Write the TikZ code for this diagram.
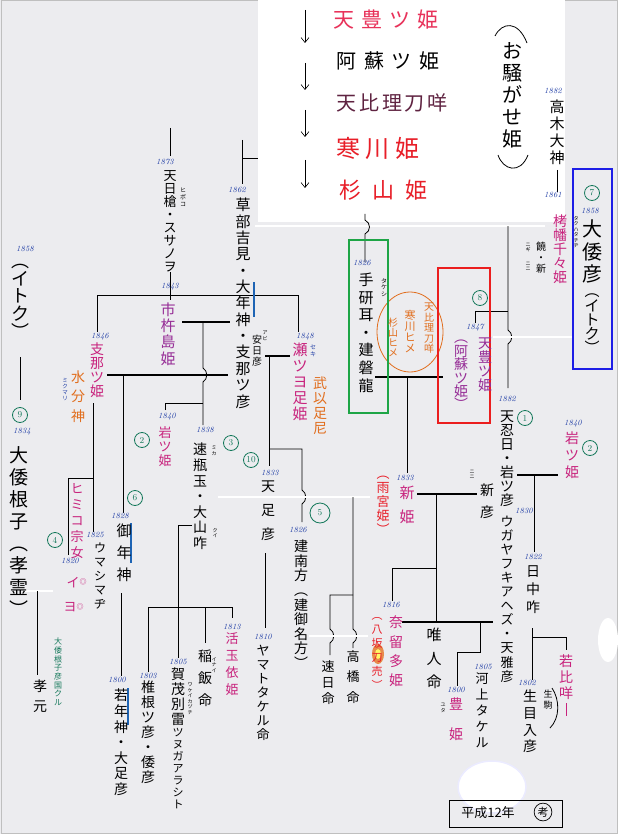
\documentclass[tikz,border=0pt]{standalone}
\usepackage{fontspec}
\newfontfamily\jp{Noto Sans CJK JP}
\usetikzlibrary{arrows.meta}
\definecolor{paper}{RGB}{236,236,239}
\definecolor{yrblue}{RGB}{30,60,165}
\definecolor{hmag}{RGB}{200,35,125}
\definecolor{hpurple}{RGB}{150,45,150}
\definecolor{horange}{RGB}{225,110,30}
\definecolor{hred}{RGB}{232,30,40}
\definecolor{hpink}{RGB}{232,50,90}
\definecolor{hteal}{RGB}{20,120,90}
\definecolor{hbrown}{RGB}{95,35,65}
\definecolor{barblue}{RGB}{30,100,180}
\definecolor{boxgreen}{RGB}{30,165,70}
\definecolor{boxred}{RGB}{235,30,30}
\definecolor{boxblue}{RGB}{30,30,230}

% vertical (tate) and spaced horizontal (yoko) text
\makeatletter
\def\vt@loop#1{\ifx\relax#1\else\hbox to 1.1em{\hss#1\hss}\expandafter\vt@loop\fi}
\newcommand\vt[2][1.1]{\vbox{\baselineskip=#1em\lineskiplimit=-\maxdimen\lineskip=0pt\vt@loop#2\relax}}
\def\yk@loop#1{\ifx\relax#1\else\hbox to \yk@w{\hss#1\hss}\expandafter\yk@loop\fi}
\newcommand\yoko[2][1.3]{\hbox{\def\yk@w{#1em}\yk@loop#2\relax}}
\makeatother

\tikzset{
  kan/.style={inner sep=0pt, anchor=north, font=\jp\fontsize{#1}{#1}\selectfont},
  kan/.default=14,
  yoko/.style={inner sep=0pt, font=\jp\fontsize{#1}{#1}\selectfont},
  yr/.style={inner sep=0pt, text=yrblue, font=\itshape\fontsize{8}{8}\selectfont},
  ruby/.style={inner sep=0pt, anchor=north, font=\jp\fontsize{#1}{#1}\selectfont},
  ruby/.default=5.5,
  maru/.style={circle, draw=hteal, text=hteal, line width=0.8pt, inner sep=0pt,
    minimum size=#1, font=\fontsize{9}{9}\selectfont},
  maru/.default=15pt,
  ln/.style={line width=0.8pt},
  dbl/.style={double, double distance=1.4pt, line width=0.6pt},
  bold/.style={line width=2.3pt},
  bar/.style={barblue, line width=2.6pt},
  frame/.style={line width=1.3pt},
  arr/.style={line width=0.6pt, -{Straight Barb[length=5pt,width=8pt]}},
}

\begin{document}
\begin{tikzpicture}[x=1pt,y=-1pt]
\useasboundingbox (0,0) rectangle (618,834);
\fill[paper] (0,0) rectangle (618,834);
\draw[black!25, line width=1pt] (1,1) rectangle (617,833);

% pasted note
\fill[white] (258,0) rectangle (565,222);
\draw[arr] (305,10) -- (305,43);
\draw[arr] (305,63) -- (305,90);
\draw[arr] (305,110) -- (305,137);
\draw[arr] (305,160) -- (305,188);
\node[yoko=21, text=hpink] (noteA) at (386,20) {\yoko[1.33]{天豊ツ姫}};
\node[yoko=20] (noteB) at (388,61) {\yoko[1.37]{阿蘇ツ姫}};
\node[yoko=20, text=hbrown] (noteC) at (392,103) {\yoko[1.13]{天比理刀咩}};
\node[yoko=24, text=hred] (noteD) at (378,148) {\yoko[1.25]{寒川姫}};
\node[yoko=22, text=hred] (noteE) at (383,190) {\yoko[1.5]{杉山姫}};
\draw[ln] (495,36) .. controls (502,22) and (518,20) .. (527,43);
\draw[ln] (498,155) .. controls (503,170) and (520,175) .. (528,155);
\node[kan=20] (osawa) at (512,42) {\vt[1.1]{お騒がせ姫}};

% stains
\fill[white] (492,787) ellipse (34 and 26);
\draw[blue!8, line width=1.5pt] (492,787) ellipse (34 and 26);
\fill[white] (608,640) ellipse (10 and 22);

% connectors
\draw[ln] (170,128) -- (170,156);
\draw[ln] (242,140) -- (242,184);
\draw[ln] (242,158) -- (258,158);
\draw[ln] (557,170) -- (557,192);
\draw[dbl] (255,226) -- (545,226);
\draw[ln] (365,214) -- (365,220) .. controls (371,223) and (371,231) .. (365,234) -- (365,262);
\draw[ln] (508,226) -- (508,330) .. controls (513,333) and (513,341) .. (508,344) -- (508,388);
\draw[ln] (170,272) -- (170,300);
\draw[ln] (97,295) -- (298,295);
\draw[ln] (97,295) -- (97,332);
\draw[ln] (298,295) -- (298,332);
\draw[bold] (182,322) -- (230,322);
\draw[ln] (203,322) -- (203,368) .. controls (208,371) and (208,379) .. (203,382) -- (203,425);
\draw[bold] (107,375) -- (228,375);
\draw[ln] (123,375) -- (123,513);
\draw[ln] (165,410) -- (165,403) -- (203,403);
\draw[bold] (265,356) -- (290,356);
\draw[ln] (269,356) -- (269,466);
\draw[ln] (269,449) -- (302,449) -- (302,490) .. controls (307,493) and (307,501) .. (302,504) -- (302,522);
\draw[dbl] (218,497) -- (370,497);
\draw[ln] (265,553) -- (265,628);
\draw[ln] (353,497) -- (353,629) .. controls (358,632) and (358,640) .. (353,643) -- (353,648);
\draw[ln] (353,595) -- (330,595) -- (330,629) .. controls (335,632) and (335,640) .. (330,643) -- (330,655);
\draw[dbl] (309,636) -- (368,636);
\draw[bold] (375,377) -- (443,377);
\draw[ln] (407,377) -- (407,473);
\draw[ln] (475,323) -- (475,311) -- (508,311);
\draw[dbl] (493,337) -- (572,337);
\draw[bold] (417,494) -- (477,494);
\draw[ln] (436,494) -- (436,622);
\draw[ln] (436,568) -- (392,568) -- (392,601);
\draw[bold] (402,622) -- (493,622);
\draw[ln] (480,622) -- (480,652) -- (457,652) -- (457,686);
\draw[bold] (517,475) -- (558,475);
\draw[ln] (534,475) -- (534,552);
\draw[ln] (532,628) -- (532,680);
\draw[ln] (532,637) -- (566,637) -- (566,650);
\draw[hmag, line width=0.8pt] (566,703) -- (566,716);
\draw[ln] (148,672) -- (148,607) -- (232,607) -- (232,618);
\draw[ln] (192,525) -- (178,525) -- (178,658);
\draw[ln] (205,607) -- (205,643);
\draw[ln] (121,593) -- (121,676);
\draw[ln] (93,403) -- (93,532);
\draw[ln] (93,478) -- (68,478) -- (68,555);
\draw[ln] (20,357) -- (20,400);
\draw[dbl] (25,591) -- (53,591);
\draw[ln] (37,591) -- (37,675);
\draw[bar] (254,282) -- (254,317);
\draw[bar] (131,523) -- (131,563);
\draw[bar] (128,688) -- (128,725);
\draw[horange, line width=0.8pt] (410,332) ellipse (33 and 40);
\draw[ln] (552,688) .. controls (560,700) and (560,718) .. (550,728);

% highlight boxes
\draw[frame, boxgreen] (349,240) rectangle (388,413);
\draw[frame, boxred] (438,268) rectangle (490,423);
\draw[frame, boxblue] (573,169) rectangle (612,369);

% upper right
\node[yr] (y1882a) at (553,91) {1882};
\node[kan=15] (takagi) at (557,100) {\vt[1.13]{高木大神}};
\node[yr] (y1861) at (553,195) {1861};
\node[kan=14, text=hmag] (takuhata) at (560,215) {\vt[1.0]{栲幡千々姫}};
\node[ruby=5] (rTaku) at (576,216) {\vt[1.1]{タクハタチヂ}};
\node[kan=10] (nigi) at (541,242) {\vt[1.1]{饒・新}};
\node[ruby=5] (rNigi) at (528,243) {\vt[1.1]{ニギ}};
\node[ruby=5] (rNini) at (528,262) {\vt[1.1]{ニニ}};
\node[maru] (m7) at (592,193) {7};
\node[yr] (y1858a) at (590,211) {1858};
\node[kan=20] (yamatohiko) at (592,220) {\vt[1.12]{大倭彦}};
\node[kan=15] (itokuA) at (592,294) {\vt[0.94]{︵イトク︶}};

% left edge
\node[yr] (y1858b) at (25,249) {1858};
\node[kan=18] (itokuB) at (20,264) {\vt[0.98]{︵イトク︶}};
\node[maru] (m9) at (20,415) {9};
\node[yr] (y1834) at (22,432) {1834};
\node[kan=19] (neko) at (19,446) {\vt[1.16]{大倭根子︵孝霊︶}};
\node[kan=14] (kogen) at (40,680) {\vt[1.36]{孝元}};
\node[kan=8, text=hteal] (kuni) at (58,638) {\vt[1.08]{大倭根子彦国クル}};

% upper left
\node[yr] (y1873) at (165,162) {1873};
\node[kan=13] (amanohiboko) at (170,170) {\vt[1.0]{天日槍・スサノヲ}};
\node[ruby=6] (rHiboko) at (183,188) {\vt[1.1]{ヒボコ}};
\node[yr] (y1862) at (237,190) {1862};
\node[kan=15] (kusaka) at (243,198) {\vt[1.09]{草部吉見・大年神・支那ツ彦}};
\node[kan=10] (abihiko) at (257,335) {\vt[1.1]{安日彦}};
\node[ruby=5] (rAbi) at (265,331) {\vt[1.1]{アビ}};
\node[yr] (y1843) at (170,287) {1843};
\node[kan=15, text=hpurple] (ichiki) at (168,303) {\vt[1.07]{市杵島姫}};
\node[yr] (y1846) at (100,337) {1846};
\node[kan=14, text=hmag] (shinatsu) at (97,343) {\vt[1.0]{支那ツ姫}};
\node[kan=14, text=horange] (mikumari) at (78,371) {\vt[1.36]{水分神}};
\node[ruby=5.5, text=yrblue] (rMiku) at (65,378) {\vt[1.1]{ミクマリ}};
\node[yr] (y1848) at (305,337) {1848};
\node[kan=15, text=hmag] (setsu) at (300,343) {\vt[1.07]{瀬ツヨ足姫}};
\node[ruby=6, text=yrblue] (rSeki) at (313,345) {\vt[1.1]{セキ}};
\node[kan=14, text=horange] (takeo) at (320,377) {\vt[1.07]{武以足尼}};

% middle left
\node[maru] (m2a) at (142,440) {2};
\node[maru] (m6) at (135,498) {6};
\node[maru] (m3) at (231,443) {3};
\node[maru] (m10) at (251,460) {10};
\node[maru] (m4) at (55,540) {4};
\node[maru=20pt] (m5) at (320,513) {5};
\node[yr] (y1840a) at (167,417) {1840};
\node[kan=13, text=hmag] (iwatsuA) at (165,426) {\vt[1.08]{岩ツ姫}};
\node[yr] (y1838) at (205,430) {1838};
\node[kan=14] (hayamika) at (200,443) {\vt[1.11]{速瓶玉・大山咋}};
\node[ruby=5] (rMika) at (214,446) {\vt[1.1]{ミカ}};
\node[ruby=5] (rKui) at (215,528) {\vt[1.1]{クイ}};
\node[yr] (y1833a) at (270,473) {1833};
\node[kan=14] (amatari) at (268,481) {\vt[1.71]{天足彦}};
\node[yr] (y1826a) at (298,530) {1826};
\node[kan=14] (takeminami) at (301,540) {\vt[1.04]{建南方︵建御名方︶}};
\node[yr] (y1828) at (120,516) {1828};
\node[kan=15] (mitoshi) at (124,524) {\vt[1.47]{御年神}};
\node[kan=13, text=hmag] (himiko) at (77,483) {\vt[1.23]{ヒミコ宗女}};
\node[yr] (y1820) at (70,561) {1820};
\node[kan=13, text=hmag] (iyo) at (73,577) {イ};
\node[kan=7, text=hmag] (iyoMaru) at (83,578) {◎};
\node[kan=13, text=hmag] (yoyo) at (70,602) {ヨ};
\node[kan=7, text=hmag] (yoyoMaru) at (80,603) {◎};
\node[yr] (y1825) at (95,535) {1825};
\node[kan=12] (umashi) at (100,543) {\vt[1.17]{ウマシマヂ}};

% center
\node[yr] (y1826b) at (362,263) {1826};
\node[kan=15] (tagishi) at (366,273) {\vt[1.17]{手研耳・建磐龍}};
\node[ruby=6] (rTake) at (384,278) {\vt[1.1]{タケシ}};
\node[kan=10, text=horange] (ovalA) at (429,303) {\vt[1.05]{天比理刀咩}};
\node[kan=11, text=horange] (ovalB) at (410,310) {\vt[1.0]{寒川ヒメ}};
\node[kan=10, text=horange] (ovalC) at (393,318) {\vt[1.0]{杉山ヒメ}};
\node[maru] (m8) at (480,298) {8};
\node[yr] (y1847) at (475,328) {1847};
\node[kan=14, text=hpurple] (amatoyo) at (485,338) {\vt[1.0]{天豊ツ姫}};
\node[kan=14, text=hpurple] (asotsu) at (461,340) {\vt[0.96]{︵阿蘇ツ姫︶}};
\node[yr] (y1833b) at (405,478) {1833};
\node[kan=15, text=hmag] (niihime) at (407,486) {\vt[1.6]{新姫}};
\node[kan=13, text=hred] (amamiya) at (383,476) {\vt[1.08]{︵雨宮姫︶}};
\node[kan=13] (hayahi) at (328,660) {\vt[1.23]{速日命}};
\node[kan=13] (takahashi) at (353,650) {\vt[1.6]{高橋命}};
\node[yr] (y1810) at (263,637) {1810};
\node[kan=13] (yamatotakeru) at (263,645) {\vt[1.08]{ヤマトタケル命}};

% right
\node[maru] (m1) at (525,418) {1};
\node[yr] (y1882b) at (507,399) {1882};
\node[kan=14] (oshihi) at (507,411) {\vt[1.0]{天忍日・岩ツ彦}};
\node[yr] (y1840b) at (573,424) {1840};
\node[maru] (m2b) at (590,448) {2};
\node[kan=14, text=hmag] (iwatsuB) at (572,432) {\vt[1.21]{岩ツ姫}};
\node[ruby=5] (rNinigi) at (472,470) {\vt[1.1]{ニニ}};
\node[kan=14] (niihiko) at (487,484) {\vt[1.57]{新彦}};
\node[yr] (y1830) at (524,511) {1830};
\node[kan=13] (ugaya) at (507,516) {\vt[1.08]{ウガヤフキアヘズ・天雅彦}};
\node[yr] (y1822) at (533,557) {1822};
\node[kan=14] (hinaka) at (533,565) {\vt[1.29]{日中咋}};
\node[kan=14, text=hmag] (wakahime) at (566,655) {\vt[1.14]{若比咩}};
\node[yr] (y1802) at (527,683) {1802};
\node[kan=14] (ikume) at (530,690) {\vt[1.18]{生目入彦}};
\node[kan=9] (ikoma) at (548,690) {\vt[1.17]{生駒}};

% lower center
\fill[horange!80] (378,654) ellipse (6 and 10);
\fill[yellow!60] (378,654) ellipse (3 and 5);
\node[yr] (y1816) at (391,605) {1816};
\node[kan=14, text=hmag] (naruta) at (396,616) {\vt[1.36]{奈留多姫}};
\node[kan=11, text=hred] (yasaka) at (377,617) {\vt[1.27]{︵八坂刀売︶}};
\node[kan=15] (hayato) at (434,628) {\vt[1.57]{唯人命}};
\node[yr] (y1805a) at (483,667) {1805};
\node[kan=13] (kawakami) at (482,673) {\vt[1.23]{河上タケル}};
\node[yr] (y1800a) at (456,690) {1800};
\node[kan=14, text=hmag] (toyohime) at (456,698) {\vt[2.14]{豊姫}};
\node[ruby=5] (rYuta) at (443,703) {\vt[1.1]{ユタ}};

% lower left
\node[yr] (y1800b) at (117,680) {1800};
\node[kan=14] (wakatoshi) at (121,689) {\vt[1.11]{若年神・大足彦}};
\node[yr] (y1803) at (148,676) {1803};
\node[kan=14] (shiine) at (148,681) {\vt[1.07]{椎根ツ彦・倭彦}};
\node[yr] (y1805b) at (178,662) {1805};
\node[kan=14] (kamo) at (178,668) {\vt[1.07]{賀茂別雷}};
\node[kan=11] (tsunuga) at (178,728) {\vt[1.09]{ツヌガアラシト}};
\node[ruby=5] (rWake) at (190,683) {\vt[1.1]{ワケイカヅチ}};
\node[kan=14] (inai) at (205,650) {\vt[1.57]{稲飯命}};
\node[ruby=5] (rInai) at (214,657) {\vt[1.1]{イナイ}};
\node[yr] (y1813) at (232,627) {1813};
\node[kan=13, text=hmag] (ikutama) at (232,632) {\vt[1.31]{活玉依姫}};

% date stamp
\draw[ln] (449,800) rectangle (562,827);
\node[yoko=13] (heisei) at (488,813) {平成12年};
\node[circle, draw, line width=0.7pt, inner sep=1pt, font=\jp\fontsize{11}{11}\selectfont] (kou) at (543,812) {考};
\end{tikzpicture}
\end{document}
